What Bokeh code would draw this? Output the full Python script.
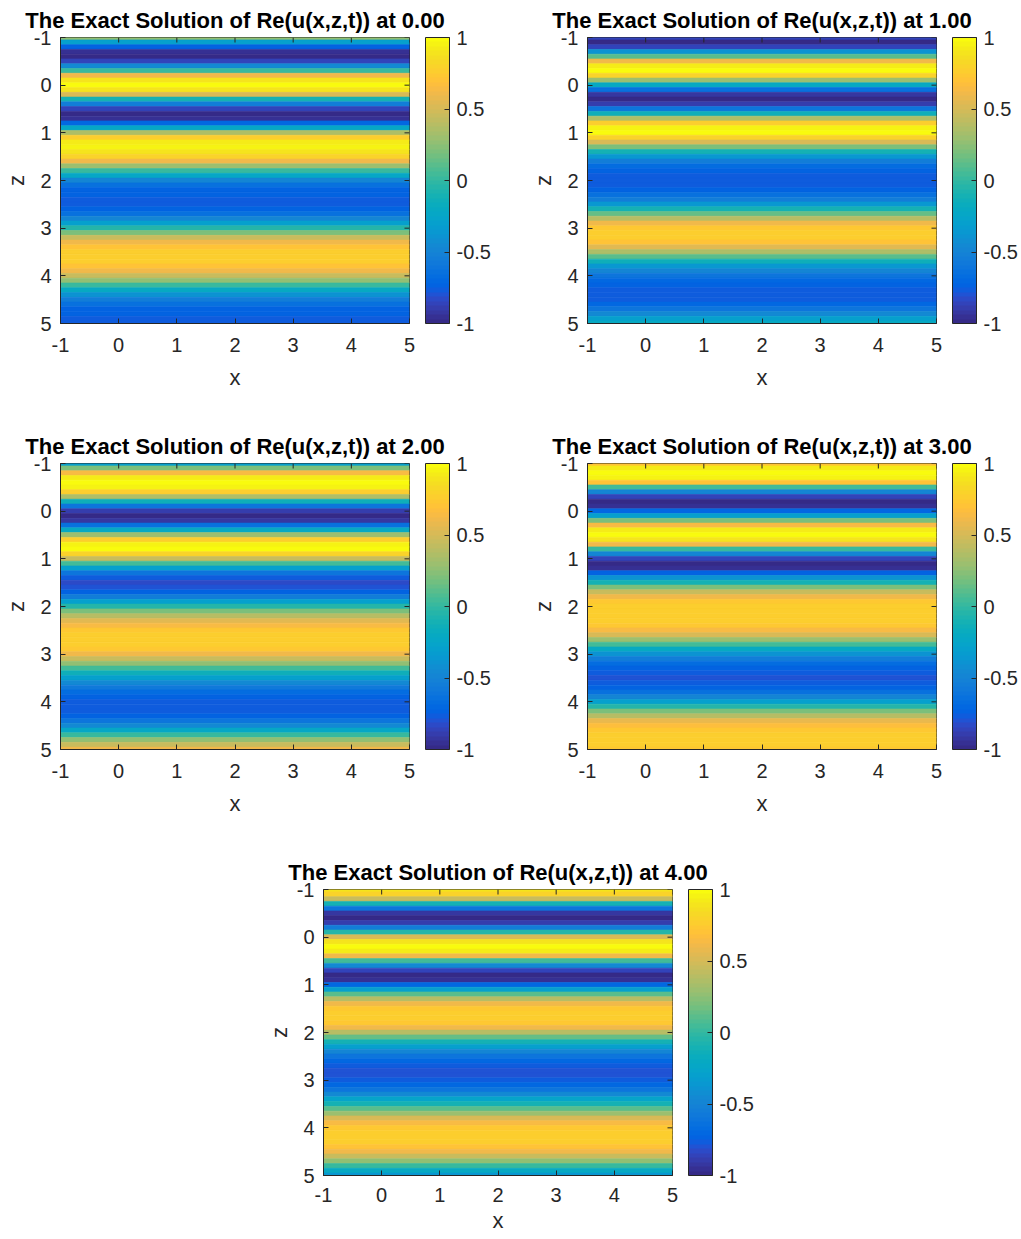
import numpy as np
from bokeh.plotting import figure
from bokeh.models import (ColumnDataSource, LinearColorMapper, ColorBar, FixedTicker,
                          Range1d, Spacer, CustomJSTickFormatter)
from bokeh.layouts import row, column
from bokeh.embed import file_html
from bokeh.resources import INLINE

# ---------------- data ----------------
x_domain = [-1, 5]
z_domain = [5, -1]          # z axis runs downwards
z = [round(-1 + 0.1 * i, 1) for i in range(61)]   # z grid, -1 .. 5 step 0.1
times = ["0.00", "1.00", "2.00", "3.00", "4.00"]

u_t0 = [0.25, -0.3, -0.75, -0.95, -1.0, -0.85, -0.45, 0.0, 0.6, 0.9,
        1.0, 0.9, 0.5, -0.1, -0.55, -0.85, -1.0, -0.95, -0.7, -0.25,
        0.35, 0.75, 0.92, 0.95, 0.9, 0.8, 0.6, 0.3, 0.0, -0.25,
        -0.5, -0.65, -0.72, -0.75, -0.77, -0.77, -0.72, -0.65, -0.5, -0.3,
        -0.05, 0.2, 0.45, 0.6, 0.7, 0.75, 0.77, 0.75, 0.7, 0.6,
        0.45, 0.25, 0.0, -0.2, -0.4, -0.55, -0.65, -0.72, -0.75, -0.77,
        -0.77]
u_t1 = [-0.85, -0.97, -0.85, -0.4, 0.1, 0.6, 0.92, 1.0, 0.8, 0.3,
        -0.2, -0.65, -0.92, -1.0, -0.9, -0.6, -0.15, 0.35, 0.75, 0.95,
        0.97, 0.8, 0.5, 0.2, -0.1, -0.35, -0.55, -0.68, -0.75, -0.78,
        -0.78, -0.77, -0.72, -0.65, -0.55, -0.35, -0.1, 0.15, 0.4, 0.6,
        0.72, 0.77, 0.75, 0.7, 0.55, 0.35, 0.1, -0.15, -0.35, -0.5,
        -0.62, -0.7, -0.75, -0.78, -0.78, -0.76, -0.7, -0.6, -0.45, -0.3,
        -0.2]
u_t2 = [-0.3, 0.2, 0.65, 0.92, 1.0, 0.95, 0.75, 0.35, -0.15, -0.6,
        -0.9, -1.0, -0.92, -0.65, -0.2, 0.3, 0.75, 0.95, 0.97, 0.8,
        0.45, 0.05, -0.3, -0.6, -0.78, -0.82, -0.8, -0.72, -0.55, -0.3,
        -0.05, 0.2, 0.4, 0.55, 0.65, 0.72, 0.76, 0.78, 0.77, 0.72,
        0.62, 0.45, 0.25, 0.05, -0.15, -0.3, -0.45, -0.58, -0.68, -0.74,
        -0.77, -0.78, -0.77, -0.72, -0.62, -0.45, -0.25, 0.0, 0.25, 0.45,
        0.6]
u_t3 = [0.7, 0.92, 1.0, 0.95, 0.7, 0.05, -0.5, -0.85, -1.0, -0.95,
        -0.7, -0.3, 0.2, 0.65, 0.92, 1.0, 0.9, 0.6, 0.0, -0.5,
        -0.85, -1.0, -0.95, -0.75, -0.4, -0.1, 0.2, 0.45, 0.62, 0.72,
        0.77, 0.78, 0.78, 0.76, 0.72, 0.65, 0.5, 0.3, 0.05, -0.2,
        -0.4, -0.55, -0.67, -0.74, -0.78, -0.79, -0.78, -0.74, -0.65, -0.5,
        -0.3, -0.05, 0.2, 0.4, 0.58, 0.68, 0.74, 0.77, 0.78, 0.77,
        0.74]
u_t4 = [0.9, 0.8, 0.45, -0.1, -0.6, -0.92, -1.0, -0.9, -0.55, -0.05,
        0.5, 0.88, 1.0, 0.93, 0.6, 0.05, -0.45, -0.85, -1.0, -0.95,
        -0.7, -0.3, 0.1, 0.4, 0.62, 0.73, 0.78, 0.78, 0.73, 0.6,
        0.4, 0.15, -0.1, -0.3, -0.48, -0.6, -0.7, -0.76, -0.79, -0.79,
        -0.76, -0.7, -0.6, -0.45, -0.28, -0.1, 0.1, 0.3, 0.5, 0.63,
        0.72, 0.77, 0.78, 0.76, 0.7, 0.6, 0.45, 0.25, 0.0, -0.2,
        -0.35]
series = [u_t0, u_t1, u_t2, u_t3, u_t4]

axis_ticks = [-1, 0, 1, 2, 3, 4, 5]
cbar_range = [-1, 1]
cbar_ticks = [-1, -0.5, 0, 0.5, 1]

# ---------------- style ----------------
PARULA = [
    (0.2081, 0.1663, 0.5292), (0.2116, 0.1898, 0.5777), (0.2123, 0.2138, 0.6270), (0.2081, 0.2386, 0.6771),
    (0.1959, 0.2645, 0.7279), (0.1707, 0.2919, 0.7792), (0.1253, 0.3242, 0.8303), (0.0591, 0.3598, 0.8683),
    (0.0117, 0.3875, 0.8820), (0.0060, 0.4086, 0.8828), (0.0165, 0.4266, 0.8786), (0.0329, 0.4430, 0.8720),
    (0.0498, 0.4586, 0.8641), (0.0629, 0.4737, 0.8554), (0.0723, 0.4887, 0.8467), (0.0779, 0.5040, 0.8384),
    (0.0793, 0.5200, 0.8312), (0.0749, 0.5375, 0.8263), (0.0641, 0.5570, 0.8240), (0.0488, 0.5772, 0.8228),
    (0.0343, 0.5966, 0.8199), (0.0265, 0.6137, 0.8135), (0.0239, 0.6287, 0.8038), (0.0231, 0.6418, 0.7913),
    (0.0228, 0.6535, 0.7768), (0.0267, 0.6642, 0.7607), (0.0384, 0.6743, 0.7436), (0.0590, 0.6838, 0.7254),
    (0.0843, 0.6928, 0.7062), (0.1133, 0.7015, 0.6859), (0.1453, 0.7098, 0.6646), (0.1801, 0.7177, 0.6424),
    (0.2178, 0.7250, 0.6193), (0.2586, 0.7317, 0.5954), (0.3022, 0.7376, 0.5712), (0.3482, 0.7424, 0.5473),
    (0.3953, 0.7459, 0.5244), (0.4420, 0.7481, 0.5033), (0.4871, 0.7491, 0.4840), (0.5300, 0.7491, 0.4661),
    (0.5709, 0.7485, 0.4494), (0.6099, 0.7473, 0.4337), (0.6473, 0.7456, 0.4188), (0.6834, 0.7435, 0.4044),
    (0.7184, 0.7411, 0.3905), (0.7525, 0.7384, 0.3768), (0.7858, 0.7356, 0.3633), (0.8185, 0.7327, 0.3498),
    (0.8507, 0.7299, 0.3360), (0.8824, 0.7274, 0.3217), (0.9139, 0.7258, 0.3063), (0.9450, 0.7261, 0.2886),
    (0.9739, 0.7314, 0.2666), (0.9938, 0.7455, 0.2403), (0.9990, 0.7653, 0.2164), (0.9955, 0.7861, 0.1967),
    (0.9880, 0.8066, 0.1794), (0.9789, 0.8271, 0.1633), (0.9697, 0.8481, 0.1475), (0.9626, 0.8705, 0.1309),
    (0.9589, 0.8949, 0.1132), (0.9598, 0.9218, 0.0948), (0.9661, 0.9514, 0.0755), (0.9763, 0.9831, 0.0538)]
palette = ["#%02x%02x%02x" % tuple(int(round(c * 255)) for c in rgb) for rgb in PARULA]

FONT = "Liberation Sans"
DARK = "#262626"
TICK_PX = "20px"
LABEL_PX = "22px"
FRAME_W, FRAME_H = 349, 286
TOP, LEFT = 37, 60


def style_axis(ax, ticks):
    ax.ticker = FixedTicker(ticks=ticks)
    ax.formatter = CustomJSTickFormatter(code="return tick.toString();")
    ax.major_tick_in = 5
    ax.major_tick_out = 0
    ax.minor_tick_line_color = None
    ax.axis_line_color = DARK
    ax.major_tick_line_color = DARK
    ax.major_label_text_font = FONT
    ax.major_label_text_color = DARK
    ax.major_label_text_font_size = TICK_PX
    ax.axis_label_text_font = FONT
    ax.axis_label_text_font_size = LABEL_PX
    ax.axis_label_text_font_style = "normal"
    ax.axis_label_text_color = DARK


def panel(vals, tlabel, right_border, bottom_border, last=False):
    step = z[1] - z[0]
    src = ColumnDataSource(dict(
        top=[zz - step / 2 for zz in z],
        bottom=[zz + step / 2 for zz in z],
        val=vals))
    mapper = LinearColorMapper(palette=palette, low=cbar_range[0], high=cbar_range[1])
    p = figure(frame_width=FRAME_W, frame_height=FRAME_H,
               x_range=Range1d(x_domain[0], x_domain[1]),
               y_range=Range1d(z_domain[0], z_domain[1]),
               min_border_left=LEFT, min_border_right=right_border,
               min_border_top=TOP, min_border_bottom=bottom_border,
               output_backend="svg", toolbar_location=None,
               title="The Exact Solution of Re(u(x,z,t)) at " + tlabel)
    p.quad(left=x_domain[0], right=x_domain[1], top="top", bottom="bottom", source=src,
           fill_color={"field": "val", "transform": mapper},
           line_color={"field": "val", "transform": mapper}, line_width=0.6)
    # inward box ticks on the top and right edges
    p.ray(x=axis_ticks, y=[z_domain[1]] * len(axis_ticks), length=5, length_units="screen",
          angle=-np.pi / 2, line_color=DARK, line_width=1)
    p.ray(x=[x_domain[1]] * len(axis_ticks), y=axis_ticks, length=5, length_units="screen",
          angle=np.pi, line_color=DARK, line_width=1)
    p.grid.visible = False
    p.outline_line_color = DARK
    p.outline_line_width = 1
    p.background_fill_color = "white"

    p.title.text_font = FONT
    p.title.text_font_size = LABEL_PX
    p.title.text_font_style = "bold"
    p.title.text_color = "black"
    p.title.align = "center"
    p.title.standoff = 10

    style_axis(p.xaxis[0], axis_ticks)
    style_axis(p.yaxis[0], axis_ticks)
    p.xaxis[0].axis_label = "x"
    p.yaxis[0].axis_label = "z"
    p.xaxis[0].major_label_standoff = 12 if last else 14
    p.yaxis[0].major_label_standoff = 9
    p.xaxis[0].axis_label_standoff = 3 if last else 10
    p.yaxis[0].axis_label_standoff = 2

    cb = ColorBar(color_mapper=mapper, ticker=FixedTicker(ticks=cbar_ticks),
                  formatter=CustomJSTickFormatter(code="return tick.toString();"),
                  location=(16, 0), width=24, padding=0, margin=0, label_standoff=7,
                  major_tick_in=5, major_tick_out=0, major_tick_line_color=DARK,
                  minor_tick_line_color=None,
                  bar_line_color=DARK, bar_line_width=1,
                  major_label_text_font=FONT, major_label_text_font_size=TICK_PX,
                  major_label_text_color=DARK, background_fill_color=None,
                  border_line_color=None)
    p.add_layout(cb, "right")
    return p


figs = []
for i, (vals, t) in enumerate(zip(series, times)):
    bottom = 103 if i < 4 else 62
    right = 118 if i in (0, 2) else 85
    figs.append(panel(vals, t, right, bottom, last=(i == 4)))

layout = column(row(figs[0], figs[1]),
                row(figs[2], figs[3]),
                row(Spacer(width=263, height=10), figs[4]))

html = file_html(layout, INLINE)
html = html.replace("<head>", "<head><style>html,body{overflow:hidden;}</style>", 1)
open("out.html", "w").write(html)
